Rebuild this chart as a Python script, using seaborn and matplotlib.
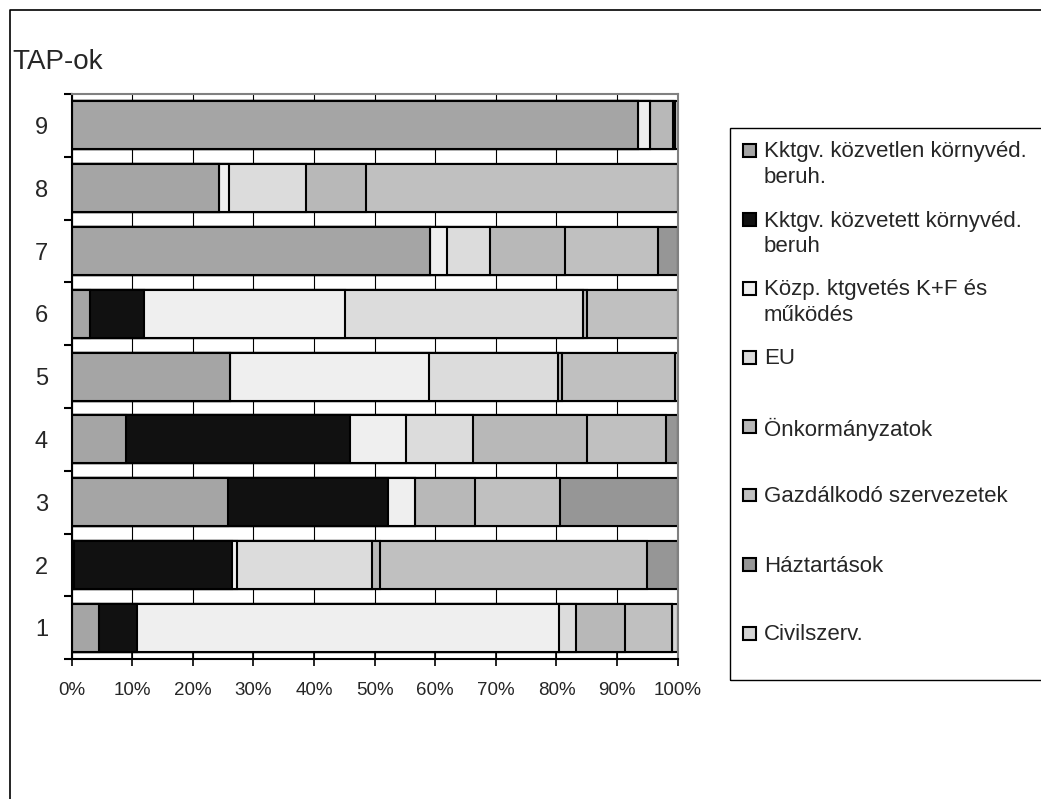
import matplotlib.pyplot as plt
import matplotlib.patches as mpatches
from matplotlib.lines import Line2D
from matplotlib.ticker import PercentFormatter
import numpy as np
import pandas as pd
import seaborn as sns

# TAP-ok (1..9), shares
taps = ["1", "2", "3", "4", "5", "6", "7", "8", "9"]

series_names = [
    "Kktgv. közvetlen környvéd.\nberuh.",
    "Kktgv. közvetett környvéd.\nberuh",
    "Közp. ktgvetés K+F és\nműködés",
    "EU",
    "Önkormányzatok",
    "Gazdálkodó szervezetek",
    "Háztartások",
    "Civilszerv.",
]
series_colors = ["#a5a5a5", "#111111", "#efefef", "#dcdcdc",
                 "#b8b8b8", "#c0c0c0", "#969696", "#d4d4d4"]

kozvetlen = [4.5, 0.3, 25.8, 9.0, 26.1, 3.0, 59.1, 24.3, 93.4]
kozvetett = [6.2, 26.2, 26.4, 37.0, 0.0, 9.0, 0.0, 0.0, 0.0]
kozp = [69.7, 0.7, 4.4, 9.2, 32.8, 33.2, 2.8, 1.7, 2.1]
eu = [2.7, 22.3, 0.0, 11.1, 21.4, 39.4, 7.1, 12.7, 0.0]
onkorm = [8.1, 1.4, 9.9, 18.7, 0.6, 0.6, 12.4, 9.9, 3.8]
gazd = [7.8, 44.0, 14.0, 13.0, 18.7, 15.0, 15.3, 51.4, 0.3]
haztart = [0.0, 5.1, 19.4, 2.0, 0.0, 0.0, 3.2, 0.0, 0.0]
civil = [0.9, 0.0, 0.0, 0.0, 0.4, 0.0, 0.0, 0.0, 0.4]

W, H = 1041, 799


def main():
    values = [kozvetlen, kozvetett, kozp, eu, onkorm, gazd, haztart, civil]
    df = pd.DataFrame(dict(zip(series_names, values)), index=taps)
    df = df.div(df.sum(axis=1), axis=0) * 100
    cum = df.cumsum(axis=1)
    cum["TAP"] = taps

    sns.set_theme(style="white")
    plt.rcParams["font.family"] = ["Liberation Sans", "DejaVu Sans"]

    fig = plt.figure(figsize=(W / 100, H / 100), dpi=100)
    ax = fig.add_axes([71.7 / W, 1 - 659.3 / H, 606 / W, (659.3 - 94) / H])

    order = taps[::-1]
    # stacking: draw cumulative totals from the last series back to the first
    for name, color in reversed(list(zip(series_names, series_colors))):
        sns.barplot(data=cum, x=name, y="TAP", order=order, orient="y",
                    color=color, saturation=1, edgecolor="black",
                    linewidth=1.5, width=0.765, ax=ax)

    ax.set_xlim(0, 100)
    ax.set_ylim(8.5, -0.5)
    ax.set_xlabel("")
    ax.set_ylabel("")

    ax.set_xticks(np.arange(0, 101, 10))
    ax.xaxis.set_major_formatter(PercentFormatter(decimals=0))
    ax.tick_params(axis="x", direction="inout", length=10, width=1.2,
                   color="black", labelsize=13.5, pad=11, bottom=True)
    ax.xaxis.grid(True, color="black", linewidth=0.8)
    ax.set_axisbelow(True)

    ax.set_yticks(np.arange(9))
    ax.set_yticklabels(order)
    ax.set_yticks(np.arange(-0.5, 9, 1), minor=True)
    ax.tick_params(axis="y", which="major", length=0, labelsize=17, pad=17)
    ax.tick_params(axis="y", which="minor", direction="out", length=6,
                   width=1.5, color="black", left=True)

    for side in ["left", "bottom"]:
        ax.spines[side].set_color("black")
        ax.spines[side].set_linewidth(1.5)
    for side in ["top", "right"]:
        ax.spines[side].set_color("#808080")
        ax.spines[side].set_linewidth(1.5)

    fig.text(12 / W, 1 - 62 / H, "TAP-ok", fontsize=20, va="center", ha="left")

    # outer frame (only left and top are visible in the crop)
    fig.add_artist(Line2D([10 / W, 10 / W, 1.0], [0.0, 1 - 10 / H, 1 - 10 / H],
                          transform=fig.transFigure, color="black", lw=1.2))

    # legend box, open on the right side
    fig.add_artist(mpatches.Rectangle((730 / W, 1 - 680 / H), 1.0, (680 - 127.7) / H,
                                      transform=fig.transFigure, fill=False,
                                      edgecolor="black", lw=1.0))
    for i, (name, color) in enumerate(zip(series_names, series_colors)):
        yc = 150 + 69 * i
        fig.add_artist(mpatches.Rectangle((743.3 / W, 1 - (yc + 6.5) / H), 12.5 / W, 12.5 / H,
                                          transform=fig.transFigure, facecolor=color,
                                          edgecolor="black", lw=1.5))
        fig.text(764 / W, 1 - (yc - 8.5) / H, name, fontsize=16, va="top",
                 ha="left", linespacing=1.28)

    fig.savefig("out.png", dpi=100)


if __name__ == "__main__":
    main()
